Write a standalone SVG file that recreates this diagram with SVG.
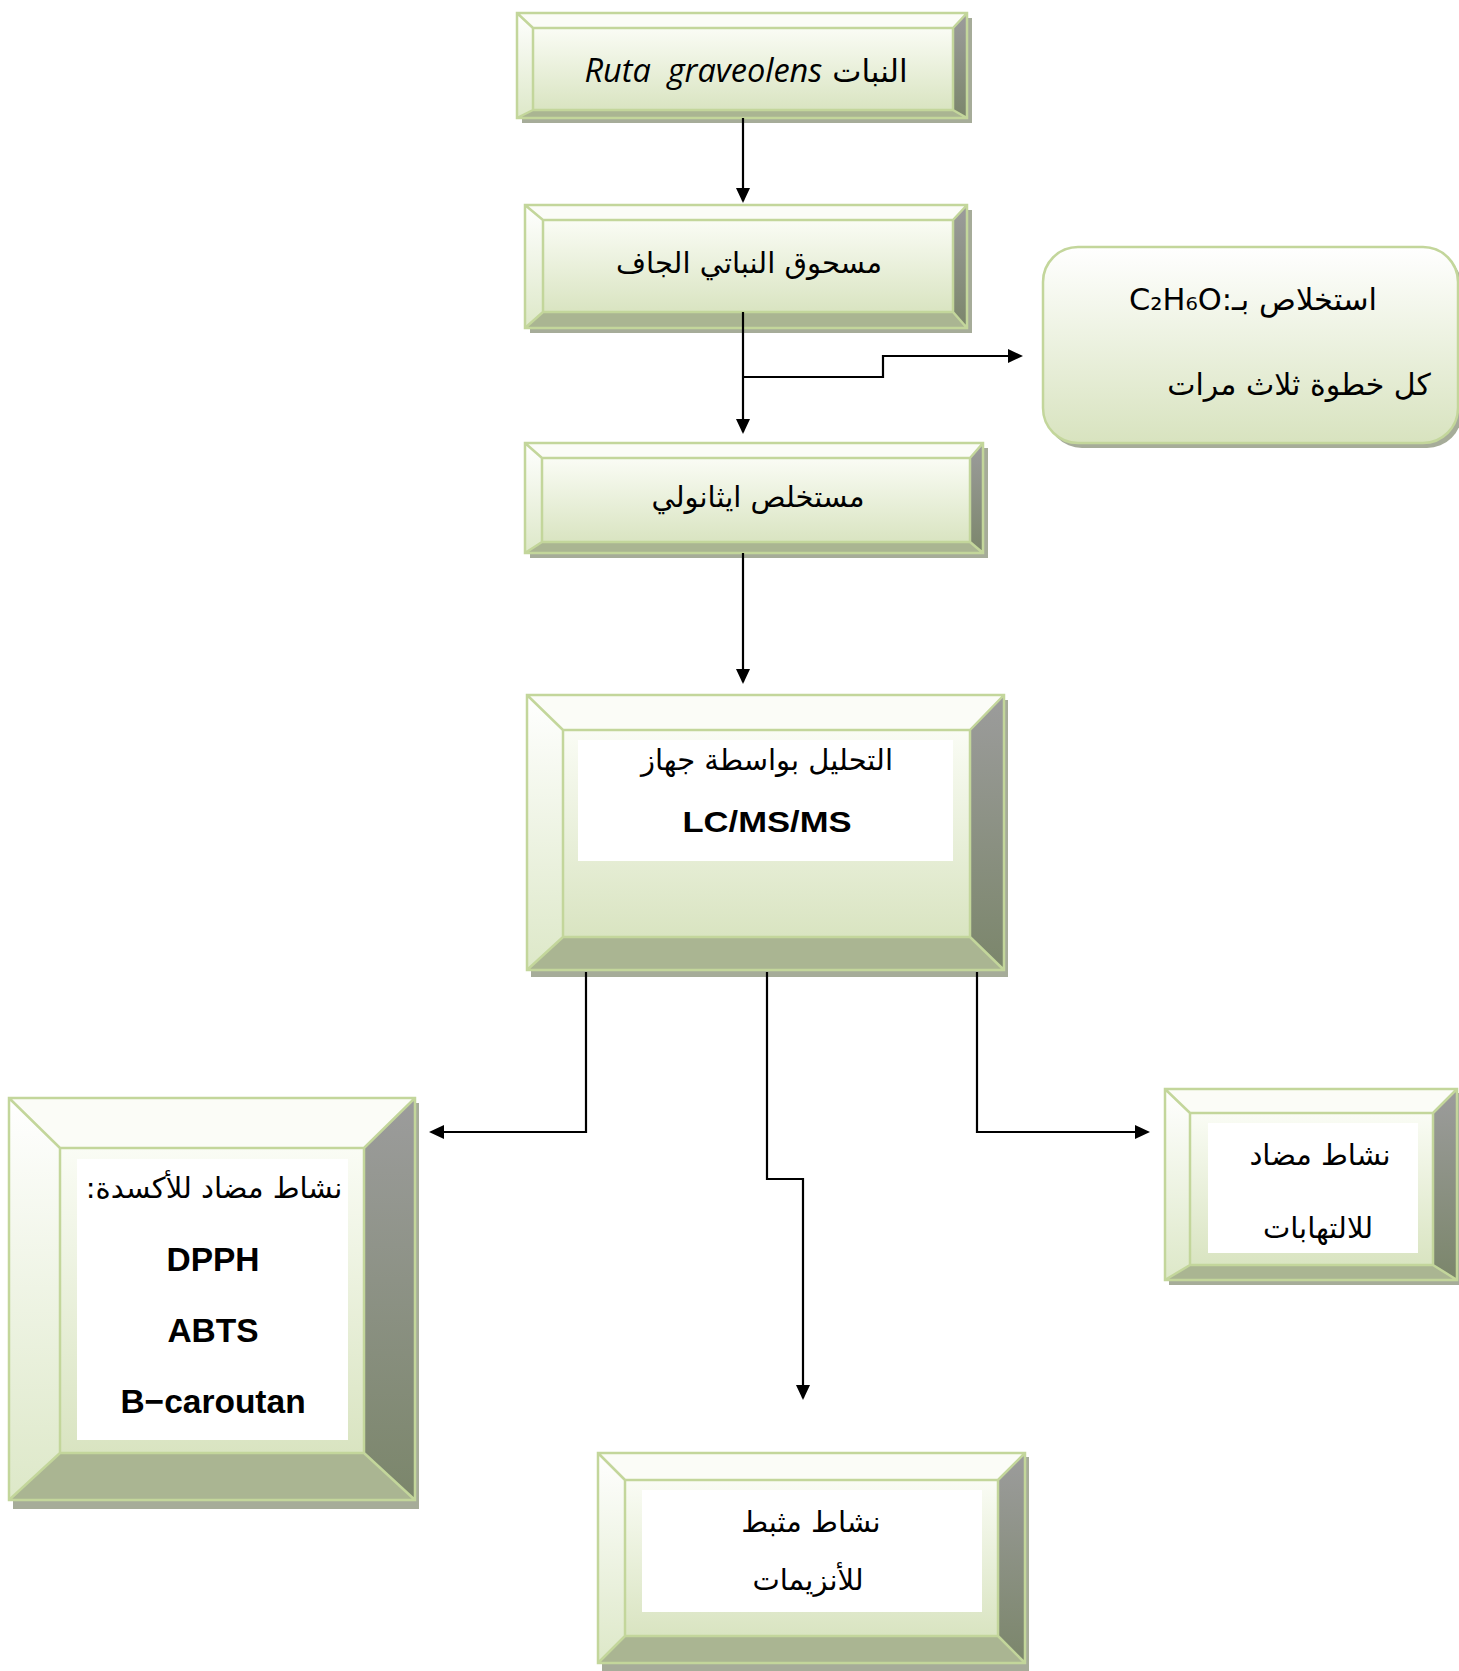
<svg xmlns="http://www.w3.org/2000/svg" width="1459" height="1671" viewBox="0 0 1459 1671">
<style>
.sh{fill:#a6ac99}
.face{fill:url(#gFace)}
.top{fill:#fbfcf7}
.left{fill:url(#gLeft)}
.right{fill:url(#gRight)}
.bot{fill:#aab592}
.edge{fill:none;stroke:#c3d69b;stroke-width:2.5;stroke-linejoin:miter}
.win{fill:#ffffff}
.ar{font-family:"DejaVu Sans",sans-serif;font-size:29px;fill:#000}
.lb{font-family:"Liberation Sans",Arial,sans-serif;font-weight:bold;font-size:33.5px;fill:#000}
.conn{fill:none;stroke:#000;stroke-width:2.2}
</style>
<defs>
<linearGradient id="gFace" x1="0" y1="0" x2="0" y2="1"><stop offset="0" stop-color="#fafcf5"/><stop offset="1" stop-color="#d9e4c1"/></linearGradient>
<linearGradient id="gLeft" x1="0" y1="0" x2="0" y2="1"><stop offset="0" stop-color="#ffffff"/><stop offset="1" stop-color="#dde8c8"/></linearGradient>
<linearGradient id="gRight" x1="0" y1="0" x2="0" y2="1"><stop offset="0" stop-color="#9c9c9c"/><stop offset="1" stop-color="#7b866b"/></linearGradient>
<linearGradient id="gRound" x1="0" y1="0" x2="0" y2="1"><stop offset="0" stop-color="#ffffff"/><stop offset="1" stop-color="#d8e3bf"/></linearGradient>
<marker id="arr" viewBox="0 0 15 14" refX="13" refY="7" markerWidth="15" markerHeight="14" markerUnits="userSpaceOnUse" orient="auto"><path d="M0,0 L15,7 L0,14 Z" fill="#000"/></marker>
</defs>

<g id="node-plant">
<rect class="sh" x="522" y="18" width="450" height="105"/>
<rect class="face" x="533" y="28" width="420" height="82"/>
<polygon class="top" points="517,13 967,13 953,28 533,28"/>
<polygon class="left" points="517,13 533,28 533,110 517,118"/>
<polygon class="right" points="967,13 967,118 953,110 953,28"/>
<polygon class="bot" points="517,118 967,118 953,110 533,110"/>
<path class="edge" d="M517,13H967V118H517Z M533,28H953V110H533Z M517,13L533,28 M967,13L953,28 M967,118L953,110 M517,118L533,110"/>
<text x="746" y="82" direction="rtl" text-anchor="middle" xml:space="preserve"><tspan class="ar" style="font-size:31px">النبات </tspan><tspan font-family="Open Sans, sans-serif" font-style="italic" font-size="32.5">Ruta  graveolens</tspan></text>
</g>

<g id="node-powder">
<rect class="sh" x="530" y="210" width="442" height="123"/>
<rect class="face" x="543" y="220" width="410" height="92"/>
<polygon class="top" points="525,205 967,205 953,220 543,220"/>
<polygon class="left" points="525,205 543,220 543,312 525,328"/>
<polygon class="right" points="967,205 967,328 953,312 953,220"/>
<polygon class="bot" points="525,328 967,328 953,312 543,312"/>
<path class="edge" d="M525,205H967V328H525Z M543,220H953V312H543Z M525,205L543,220 M967,205L953,220 M967,328L953,312 M525,328L543,312"/>
<text class="ar" x="749" y="273" direction="rtl" text-anchor="middle">مسحوق النباتي الجاف</text>
</g>

<g id="node-extraction">
<rect class="sh" x="1047" y="252" width="415" height="196" rx="35"/>
<rect x="1043" y="247" width="415" height="196" rx="35" fill="url(#gRound)" stroke="#c3d69b" stroke-width="2.5"/>
<text class="ar" x="1253" y="310" direction="rtl" text-anchor="middle" style="font-size:30.5px">استخلاص بـ:C₂H₆O</text>
<text class="ar" x="1299" y="395" direction="rtl" text-anchor="middle" style="font-size:30px">كل خطوة ثلاث مرات</text>
</g>

<g id="node-ethanol">
<rect class="sh" x="530" y="448" width="458" height="110"/>
<rect class="face" x="542" y="458" width="428" height="84"/>
<polygon class="top" points="525,443 983,443 970,458 542,458"/>
<polygon class="left" points="525,443 542,458 542,542 525,553"/>
<polygon class="right" points="983,443 983,553 970,542 970,458"/>
<polygon class="bot" points="525,553 983,553 970,542 542,542"/>
<path class="edge" d="M525,443H983V553H525Z M542,458H970V542H542Z M525,443L542,458 M983,443L970,458 M983,553L970,542 M525,553L542,542"/>
<text class="ar" x="758" y="507" direction="rtl" text-anchor="middle">مستخلص ايثانولي</text>
</g>

<g id="node-lcms">
<rect class="sh" x="531" y="700" width="477" height="277"/>
<rect class="face" x="563" y="730" width="407" height="207"/>
<polygon class="top" points="527,695 1004,695 970,730 563,730"/>
<polygon class="left" points="527,695 563,730 563,937 527,970"/>
<polygon class="right" points="1004,695 1004,970 970,937 970,730"/>
<polygon class="bot" points="527,970 1004,970 970,937 563,937"/>
<path class="edge" d="M527,695H1004V970H527Z M563,730H970V937H563Z M527,695L563,730 M1004,695L970,730 M1004,970L970,937 M527,970L563,937"/>
<rect class="win" x="578" y="740" width="375" height="121"/>
<text class="ar" x="767" y="770" direction="rtl" text-anchor="middle">التحليل بواسطة جهاز</text>
<text class="lb" x="767" y="832" text-anchor="middle" textLength="169" lengthAdjust="spacingAndGlyphs" style="font-size:30px">LC/MS/MS</text>
</g>

<g id="node-antioxidant">
<rect class="sh" x="13" y="1103" width="406" height="406"/>
<rect class="face" x="60" y="1148" width="304" height="305"/>
<polygon class="top" points="9,1098 415,1098 364,1148 60,1148"/>
<polygon class="left" points="9,1098 60,1148 60,1453 9,1500"/>
<polygon class="right" points="415,1098 415,1500 364,1453 364,1148"/>
<polygon class="bot" points="9,1500 415,1500 364,1453 60,1453"/>
<path class="edge" d="M9,1098H415V1500H9Z M60,1148H364V1453H60Z M9,1098L60,1148 M415,1098L364,1148 M415,1500L364,1453 M9,1500L60,1453"/>
<rect class="win" x="77" y="1159" width="271" height="281"/>
<text class="ar" x="214" y="1198" direction="rtl" text-anchor="middle">نشاط مضاد للأكسدة:</text>
<text class="lb" x="213" y="1271" text-anchor="middle">DPPH</text>
<text class="lb" x="213" y="1342" text-anchor="middle">ABTS</text>
<text class="lb" x="213" y="1413" text-anchor="middle">B−caroutan</text>
</g>

<g id="node-antiinflammatory">
<rect class="sh" x="1169" y="1093" width="292" height="192"/>
<rect class="face" x="1190" y="1113" width="243" height="152"/>
<polygon class="top" points="1165,1089 1457,1089 1433,1113 1190,1113"/>
<polygon class="left" points="1165,1089 1190,1113 1190,1265 1165,1280"/>
<polygon class="right" points="1457,1089 1457,1280 1433,1265 1433,1113"/>
<polygon class="bot" points="1165,1280 1457,1280 1433,1265 1190,1265"/>
<path class="edge" d="M1165,1089H1457V1280H1165Z M1190,1113H1433V1265H1190Z M1165,1089L1190,1113 M1457,1089L1433,1113 M1457,1280L1433,1265 M1165,1280L1190,1265"/>
<rect class="win" x="1208" y="1123" width="210" height="130"/>
<text class="ar" x="1320" y="1165" direction="rtl" text-anchor="middle">نشاط مضاد</text>
<text class="ar" x="1318" y="1238" direction="rtl" text-anchor="middle">للالتهابات</text>
</g>

<g id="node-enzyme">
<rect class="sh" x="602" y="1457" width="427" height="214"/>
<rect class="face" x="625" y="1480" width="373" height="156"/>
<polygon class="top" points="598,1453 1025,1453 998,1480 625,1480"/>
<polygon class="left" points="598,1453 625,1480 625,1636 598,1663"/>
<polygon class="right" points="1025,1453 1025,1663 998,1636 998,1480"/>
<polygon class="bot" points="598,1663 1025,1663 998,1636 625,1636"/>
<path class="edge" d="M598,1453H1025V1663H598Z M625,1480H998V1636H625Z M598,1453L625,1480 M1025,1453L998,1480 M1025,1663L998,1636 M598,1663L625,1636"/>
<rect class="win" x="642" y="1490" width="340" height="122"/>
<text class="ar" x="811" y="1532" direction="rtl" text-anchor="middle">نشاط مثبط</text>
<text class="ar" x="808" y="1590" direction="rtl" text-anchor="middle">للأنزيمات</text>
</g>

<g id="connectors">
<path class="conn" d="M743,118V201" marker-end="url(#arr)"/>
<path class="conn" d="M743,312V432" marker-end="url(#arr)"/>
<path class="conn" d="M743,377H883V356H1021" marker-end="url(#arr)"/>
<path class="conn" d="M743,553V682" marker-end="url(#arr)"/>
<path class="conn" d="M586,972V1132H431" marker-end="url(#arr)"/>
<path class="conn" d="M767,972V1179H803V1398" marker-end="url(#arr)"/>
<path class="conn" d="M977,972V1132H1148" marker-end="url(#arr)"/>
</g>
</svg>
